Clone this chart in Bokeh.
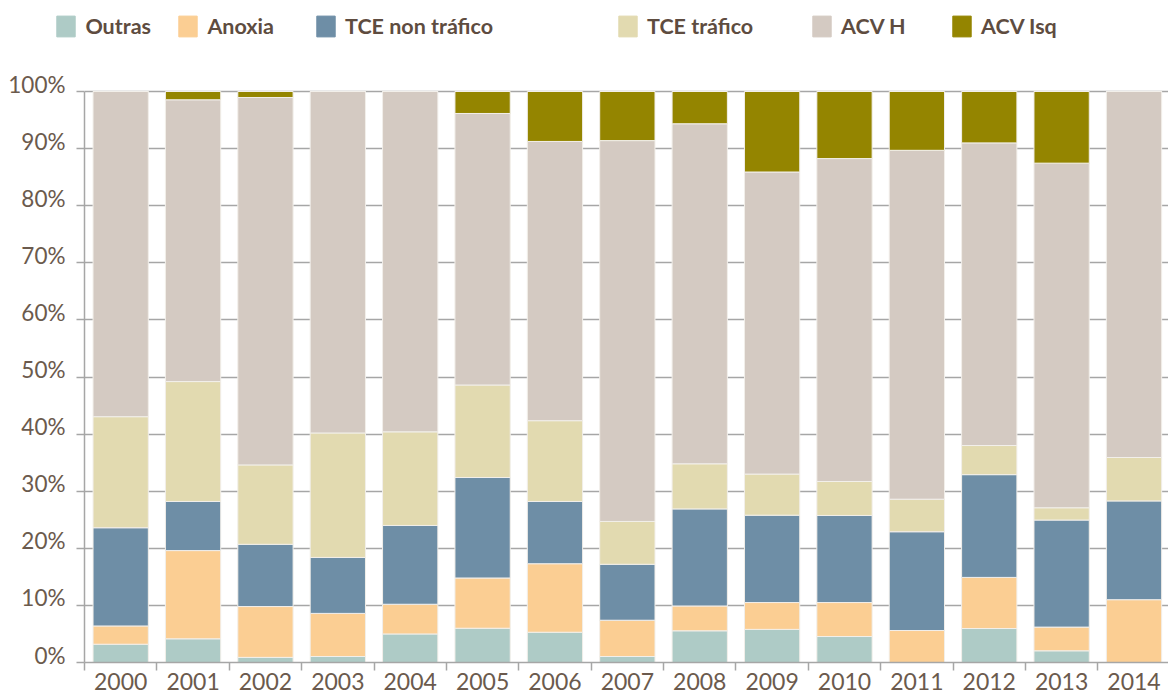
from bokeh.plotting import figure
from bokeh.layouts import column
from bokeh.models import (Range1d, FixedTicker, Legend, LegendItem, ColumnDataSource,
                          PrintfTickFormatter, LinearAxis)
from bokeh.embed import file_html
from bokeh.resources import INLINE

# ---------------- data ----------------
years = ["2000", "2001", "2002", "2003", "2004", "2005", "2006", "2007",
         "2008", "2009", "2010", "2011", "2012", "2013", "2014"]
outras   = [3.2, 4.15, 0.9, 1.05, 5.0, 6.0, 5.3, 1.05, 5.55, 5.8, 4.55, 0.0, 5.95, 2.05, 0.0]
anoxia   = [3.2, 15.45, 8.9, 7.55, 5.2, 8.8, 12.0, 6.35, 4.35, 4.7, 5.95, 5.6, 8.95, 4.15, 11.0]
tce_non  = [17.2, 8.6, 10.9, 9.8, 13.8, 17.6, 10.9, 9.8, 17.0, 15.3, 15.25, 17.3, 18.0, 18.75, 17.3]
tce_traf = [19.45, 21.0, 13.9, 21.8, 16.4, 16.2, 14.15, 7.5, 7.9, 7.2, 5.95, 5.7, 5.1, 2.15, 7.6]
acv_h    = [56.95, 49.35, 64.35, 59.8, 59.6, 47.55, 48.9, 66.7, 59.55, 52.9, 56.55, 61.1, 53.0, 60.35, 64.1]
acv_isq  = [0.0, 1.45, 1.05, 0.0, 0.0, 3.85, 8.75, 8.6, 5.65, 14.1, 11.75, 10.3, 9.0, 12.55, 0.0]
series_names = ["Outras", "Anoxia", "TCE non tráfico", "TCE tráfico", "ACV H", "ACV Isq"]
y_ticks = [0, 10, 20, 30, 40, 50, 60, 70, 80, 90, 100]

# ---------------- style ----------------
colors = ["#aecbc6", "#fbce93", "#6e8ea6", "#e2dab0", "#d4cac2", "#948500"]
text_color = "#6b5a4d"
legend_color = "#5e4c40"
grid_color = "#a6a6a6"
tick_font = "Lato"
legend_font = "Lato"

W, H = 1168, 695
LEG_H = 50
FRAME_BOTTOM = 662          # page y of the 0% line
FRAME_TOP = LEG_H           # page y of the main frame top
Y100 = 91                   # page y of the 100% line
y_top = 100.0 * (FRAME_BOTTOM - FRAME_TOP) / (FRAME_BOTTOM - Y100)
px_per_unit = (FRAME_BOTTOM - Y100) / 100.0
label_lift = 7.5 / px_per_unit   # y labels sit on the gridline

x = list(range(len(years)))
keys = ["outras", "anoxia", "tce_non", "tce_traf", "acv_h", "acv_isq"]
src = ColumnDataSource(dict(x=x, outras=outras, anoxia=anoxia, tce_non=tce_non,
                            tce_traf=tce_traf, acv_h=acv_h, acv_isq=acv_isq))

cat_px = 72.38
x_end = -0.5 + (W - 84) / cat_px

p = figure(width=W, height=H - LEG_H, output_backend="svg", toolbar_location=None,
           x_range=Range1d(-0.5, x_end), y_range=Range1d(0, y_top),
           min_border_left=84, min_border_right=0, min_border_top=0,
           min_border_bottom=H - FRAME_BOTTOM,
           outline_line_color=None, background_fill_color="white", border_fill_color="white")
p.extra_y_ranges = {"lab": Range1d(-label_lift, y_top - label_lift)}

p.vbar_stack(keys, x="x", width=0.764, color=colors, source=src,
             line_color="#f2efea", line_width=1)

# y axis: ticks + line (no labels)
ticker_y = FixedTicker(ticks=y_ticks)
p.yaxis.ticker = ticker_y
p.yaxis.bounds = (0, 100)
p.yaxis.axis_line_color = grid_color
p.yaxis.axis_line_width = 1.5
p.yaxis.major_tick_out = 8
p.yaxis.major_tick_in = 0
p.yaxis.major_tick_line_color = grid_color
p.yaxis.major_tick_line_width = 1.5
p.yaxis.minor_tick_line_color = None
p.yaxis.major_label_overrides = {v: "" for v in y_ticks}
p.yaxis.major_label_standoff = 0

# y axis: labels only
lab_axis = LinearAxis(y_range_name="lab", ticker=FixedTicker(ticks=y_ticks),
                      formatter=PrintfTickFormatter(format="%d%%"),
                      axis_line_color=None, major_tick_line_color=None,
                      minor_tick_line_color=None, major_tick_out=0, major_tick_in=0,
                      major_label_standoff=11, major_label_text_font=tick_font,
                      major_label_text_font_size="22.5px",
                      major_label_text_color=text_color)
p.add_layout(lab_axis, "left")

p.ygrid.ticker = ticker_y
p.ygrid.grid_line_color = grid_color
p.ygrid.grid_line_width = 1.5
p.xgrid.grid_line_color = None

# x axis
p.xaxis.ticker = FixedTicker(ticks=x, minor_ticks=[i - 0.5 for i in range(len(years) + 1)])
p.xaxis.major_label_overrides = {i: y for i, y in zip(x, years)}
p.xaxis.axis_line_color = grid_color
p.xaxis.axis_line_width = 1.5
p.xaxis.major_tick_line_color = None
p.xaxis.minor_tick_out = 8
p.xaxis.minor_tick_in = 0
p.xaxis.minor_tick_line_color = grid_color
p.xaxis.minor_tick_line_width = 1.5
p.xaxis.major_label_standoff = 2
p.xaxis.major_label_text_font = tick_font
p.xaxis.major_label_text_font_size = "23px"
p.xaxis.major_label_text_color = text_color

# legend strip above the plot
leg = figure(width=W, height=LEG_H, output_backend="svg", toolbar_location=None,
             x_range=Range1d(0, W), y_range=Range1d(0, LEG_H),
             x_axis_location=None, y_axis_location=None,
             min_border=0, min_border_left=0, min_border_right=0,
             min_border_top=0, min_border_bottom=0, outline_line_color=None,
             background_fill_color="white", border_fill_color="white")
leg.grid.visible = False
if "frame_align" in leg.properties():
    leg.frame_align = False
    p.frame_align = False

legend_x = [54.4, 176.4, 314.0, 616.0, 810.0, 950.0]
legend_y = 10.6
for name, key, c, lx in zip(series_names, keys, colors, legend_x):
    r = leg.vbar(x="x", top=key, width=0.764, color=c, source=src, visible=False)
    lg = Legend(items=[LegendItem(label=name, renderers=[r])], location=(lx, legend_y),
                padding=0, margin=0, spacing=0, border_line_color=None,
                background_fill_alpha=0, glyph_width=23, glyph_height=26,
                label_standoff=8, label_height=26, inactive_fill_alpha=0,
                label_text_font=legend_font, label_text_font_size="21.5px",
                label_text_font_style="bold", label_text_color=legend_color)
    leg.add_layout(lg, "center")

layout = column(leg, p, spacing=0)
open("out.html", "w").write(file_html(layout, INLINE))
